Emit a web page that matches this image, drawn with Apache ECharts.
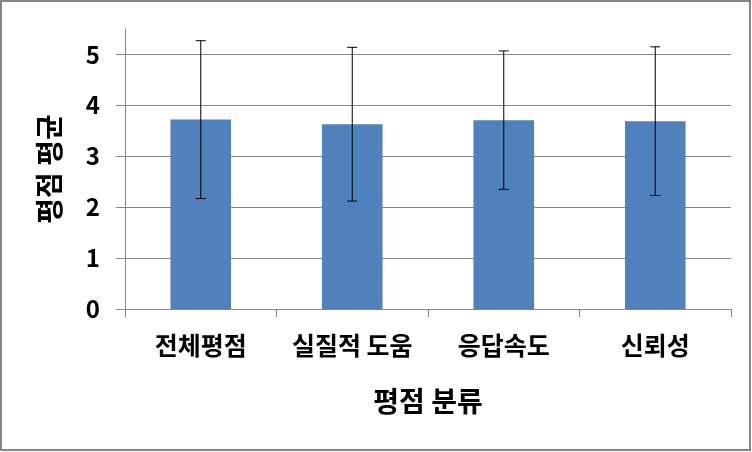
<!DOCTYPE html>
<html>
<head>
<meta charset="utf-8">
<script src="https://cdn.jsdelivr.net/npm/echarts@6/dist/echarts.min.js"></script>
<style>
html,body{margin:0;padding:0;background:#fff;}
#c{width:752px;height:452px;}
</style>
</head>
<body>
<div id="c"></div>
<script>
var categories = ['전체평점', '실질적 도움', '응답속도', '신뢰성'];
var means = [3.72, 3.63, 3.71, 3.69];
var sds = [1.55, 1.51, 1.36, 1.46];
var yTicks = [0, 1, 2, 3, 4, 5];

var FONT = '"Noto Sans CJK KR", "Noto Sans", sans-serif';
var GRAY = '#868686';

var errData = means.map(function (m, i) { return [i, m - sds[i], m + sds[i]]; });

var chart = echarts.init(document.getElementById('c'), null, {renderer: 'canvas'});
chart.setOption({
  animation: false,
  backgroundColor: '#fff',
  grid: {left: 125, right: 21, top: 29, bottom: 143, containLabel: false},
  graphic: [{
    type: 'rect', z: 100, silent: true,
    shape: {x: 1, y: 1, width: 749, height: 449},
    style: {fill: 'none', stroke: GRAY, lineWidth: 2}
  }],
  xAxis: {
    type: 'category',
    data: categories,
    name: '평점 분류',
    nameLocation: 'middle',
    nameGap: 78,
    nameTextStyle: {fontFamily: FONT, fontSize: 28, fontWeight: 'bold', color: '#000'},
    axisLine: {lineStyle: {color: GRAY, width: 1}},
    axisTick: {show: true, length: 8, lineStyle: {color: GRAY}},
    axisLabel: {fontFamily: FONT, fontSize: 25, fontWeight: 'bold', color: '#000', margin: 24, interval: 0}
  },
  yAxis: {
    type: 'value',
    min: 0, max: 5.5, interval: 1,
    name: '평점 평균',
    nameLocation: 'middle',
    nameRotate: 90,
    nameGap: 62,
    nameTextStyle: {fontFamily: FONT, fontSize: 28, fontWeight: 'bold', color: '#000'},
    axisLine: {show: true, lineStyle: {color: GRAY, width: 1}},
    axisTick: {show: true, length: 9, lineStyle: {color: GRAY}, customValues: yTicks},
    axisLabel: {fontFamily: FONT, fontSize: 24, fontWeight: 'bold', color: '#000', margin: 25, customValues: yTicks},
    splitLine: {show: true, lineStyle: {color: GRAY, width: 1}}
  },
  series: [{
    type: 'bar',
    data: means,
    barWidth: '40%',
    itemStyle: {color: '#4F81BD'}
  }, {
    type: 'custom',
    data: errData,
    z: 10,
    renderItem: function (params, api) {
      var x = api.value(0);
      var lo = api.coord([x, api.value(1)]);
      var hi = api.coord([x, api.value(2)]);
      var hw = 5;
      var st = {stroke: '#000', lineWidth: 1};
      return {
        type: 'group',
        children: [
          {type: 'line', shape: {x1: hi[0], y1: hi[1], x2: lo[0], y2: lo[1]}, style: st},
          {type: 'line', shape: {x1: hi[0] - hw, y1: hi[1], x2: hi[0] + hw, y2: hi[1]}, style: st},
          {type: 'line', shape: {x1: lo[0] - hw, y1: lo[1], x2: lo[0] + hw, y2: lo[1]}, style: st}
        ]
      };
    }
  }]
});
</script>
</body>
</html>
